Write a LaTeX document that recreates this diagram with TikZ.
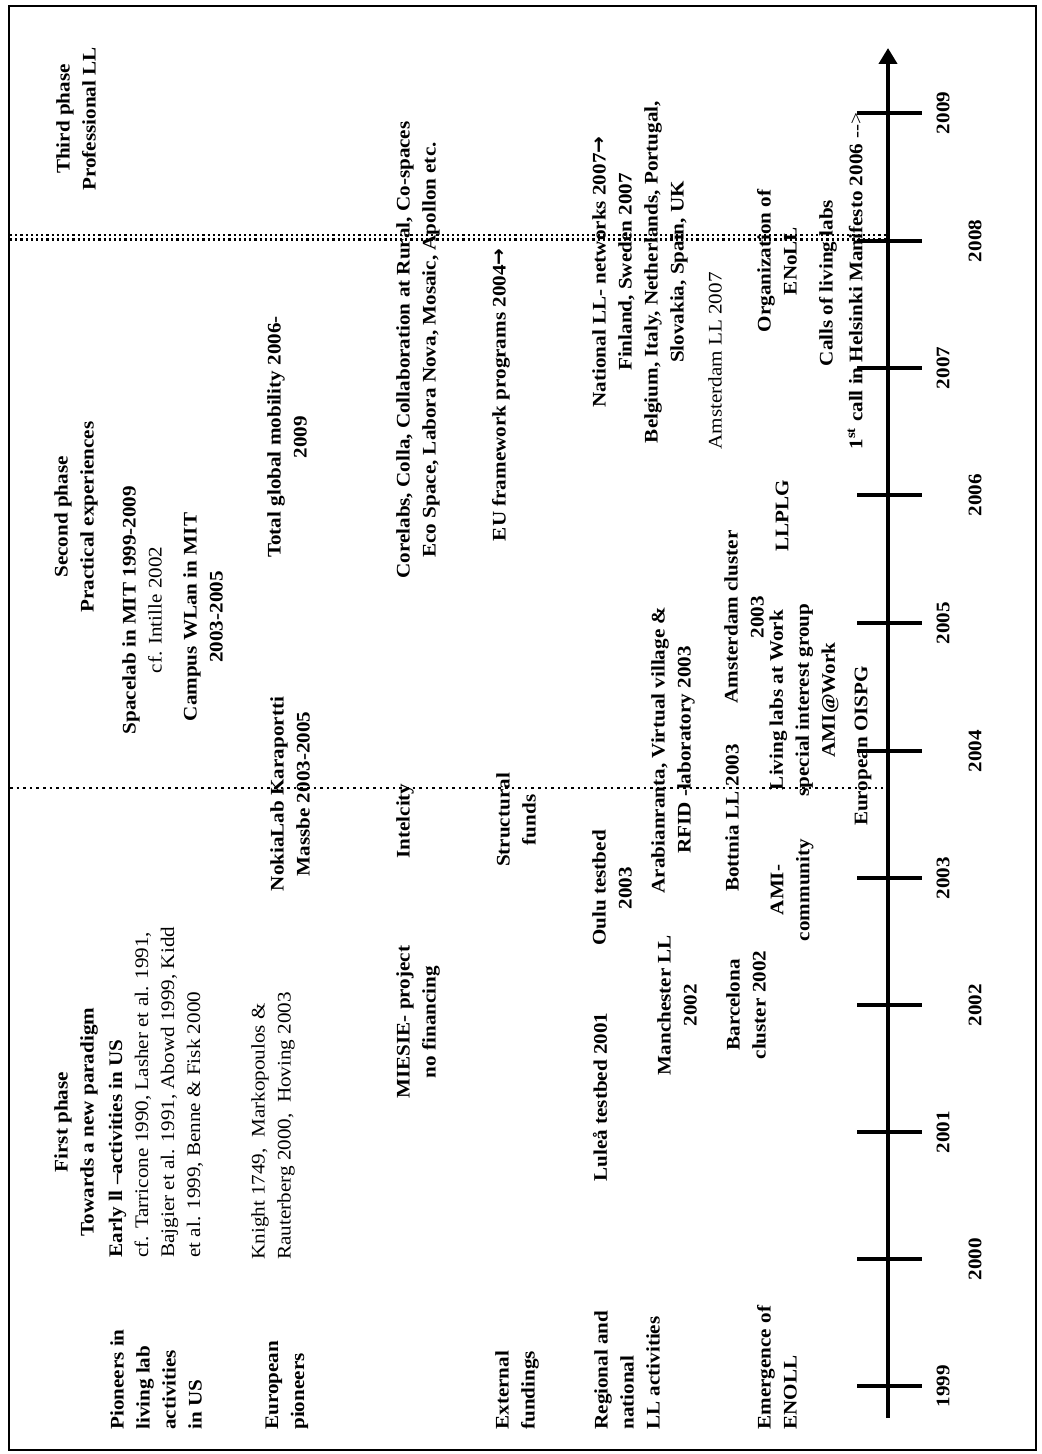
\documentclass[tikz,border=0pt]{standalone}
\usepackage{fontspec}
\setmainfont{Liberation Serif}[FakeStretch=1.1]
\newfontfamily\arrowfont{DejaVu Sans}
\newcommand{\rarr}{{\arrowfont\bfseries\fontsize{10}{13}\selectfont →}}
\usetikzlibrary{arrows.meta}
\begin{document}
\begin{tikzpicture}[x=0.5pt,y=-0.5pt,
  txt/.style={rotate=90,inner sep=0pt,align=center,font=\fontsize{9.6}{13}\selectfont\bfseries},
  rtxt/.style={txt,font=\fontsize{9.6}{13}\selectfont},
  lab/.style={txt,align=left,anchor=west},
  rlab/.style={rtxt,align=left,anchor=west},
  yrlabel/.style={txt},
  tickline/.style={line width=1.7pt},
  axisline/.style={line width=2pt,-{Triangle[length=8pt,width=9pt]}},
  phaseline/.style={line width=1.4pt,dash pattern=on 1.3pt off 2pt},
  phaseline2/.style={line width=1.1pt,dash pattern=on 1.1pt off 1.5pt},
]
\useasboundingbox (0,0) rectangle (1041,1454);
\draw[line width=1.4pt] (9,6) rectangle (1036,1450);

% phase separators
\coordinate (d1a) at (10,788); \coordinate (d1b) at (883,788);
\draw[phaseline] (d1a) -- (d1b);
\coordinate (d2a) at (10,235); \coordinate (d2b) at (887,235);
\coordinate (d3a) at (10,239.5); \coordinate (d3b) at (887,239.5);
\draw[phaseline2] (d2a) -- (d2b);
\draw[phaseline2] (d3a) -- (d3b);

% time axis
\coordinate (a0) at (888,1418); \coordinate (a1) at (888,48);
\draw[axisline] (a0) -- (a1);
\foreach \yr/\y/\x in {1999/1386/943,2000/1259/975,2001/1132/943,2002/1005/975,2003/878/943,2004/751/975,2005/623/943,2006/495/975,2007/368/943,2008/241/975,2009/113/943}{
  \coordinate (t\yr) at (888,\y);
  \draw[tickline] ([xshift=-15.5pt]t\yr) -- ([xshift=17pt]t\yr);
  \node[yrlabel] (y\yr) at (\x,\y) {\yr};
}

% phase headers
\node[txt] (p3) at (76,119) {Third phase\\Professional LL};
\node[txt] (p2) at (76,517) {Second phase\\Practical experiences};
\node[txt] (p1) at (76,1122) {First phase\\Towards a new paradigm};

% row labels
\node[lab] (l1) at (156,1430) {Pioneers in\\living lab\\activities\\in US};
\node[lab] (l2) at (287,1430) {European\\pioneers};
\node[lab] (l3) at (517,1430) {External\\fundings};
\node[lab] (l4) at (627,1430) {Regional and\\national\\LL activities};
\node[lab] (l5) at (777,1430) {Emergence of\\ENOLL};

% pioneers in US
\node[rlab] (early) at (156,1258) {\textbf{Early ll –activities in US}\\cf. Tarricone 1990, Lasher et al. 1991,\\Bajgier et al. 1991, Abowd 1999, Kidd\\et al. 1999, Benne \& Fisk 2000};
\node[txt] (space) at (142,610) {Spacelab in MIT 1999-2009\\\mdseries cf. Intille 2002};
\node[txt] (campus) at (203,617) {Campus WLan in MIT\\2003-2005};

% European pioneers
\node[rlab] (knight) at (273,1260) {Knight 1749,\ \ Markopoulos \&\\Rauterberg 2000,\ \ Hoving 2003};
\node[txt] (nokia) at (290,794) {NokiaLab Karaportti\\Massbe 2003-2005};
\node[txt] (total) at (287,437) {Total global mobility 2006-\\2009};
\node[txt] (miesie) at (418,1022) {MIESIE- project\\no financing};
\node[txt] (intel) at (405,821) {Intelcity};
\node[txt] (core) at (418,350) {Corelabs, Colla, Collaboration at Rural, Co-spaces\\Eco Space, Labora Nova, Mosaic, Apollon etc.};

% external fundings
\node[txt] (struct) at (516,820) {Structural\\funds};
\node[txt,anchor=east] (eu) at (501,248) {EU framework programs 2004\rarr};

% regional and national
\node[txt] (lulea) at (600,1097) {Luleå testbed 2001};
\node[txt] (oulu) at (612,888) {Oulu testbed\\2003};
\node[txt] (manch) at (677,1005) {Manchester LL\\2002};
\node[txt] (arab) at (673,750) {Arabianranta, Virtual village \&\\RFID -laboratory 2003};
\node[txt] (natl) at (640,272) {National LL- networks 2007\rarr\\Finland, Sweden 2007\\Belgium, Italy, Netherlands, Portugal,\\Slovakia, Spain, UK};
\node[rtxt] (amsll) at (715,361) {Amsterdam LL 2007};

% emergence of ENoLL
\node[txt] (barc) at (746,1005) {Barcelona\\cluster 2002};
\node[txt] (bott) at (732,818) {Bottnia LL 2003};
\node[txt] (amscl) at (744,617) {Amsterdam cluster\\2003};
\node[txt] (ami) at (792,890) {AMI-\\community};
\node[txt] (llwork) at (804,700) {Living labs at Work\\special interest group\\AMI@Work};
\node[txt] (llplg) at (782,516) {LLPLG};
\node[txt] (oispg) at (863,746) {European OISPG};
\node[txt] (org) at (777,261) {Organization of\\ENoLL};
\node[txt] (calls) at (828,283) {Calls of living labs};
\node[txt] (hels) at (855,281) {1\textsuperscript{st} call in Helsinki Manifesto 2006 \mdseries-{}-{}>};
\end{tikzpicture}
\end{document}
